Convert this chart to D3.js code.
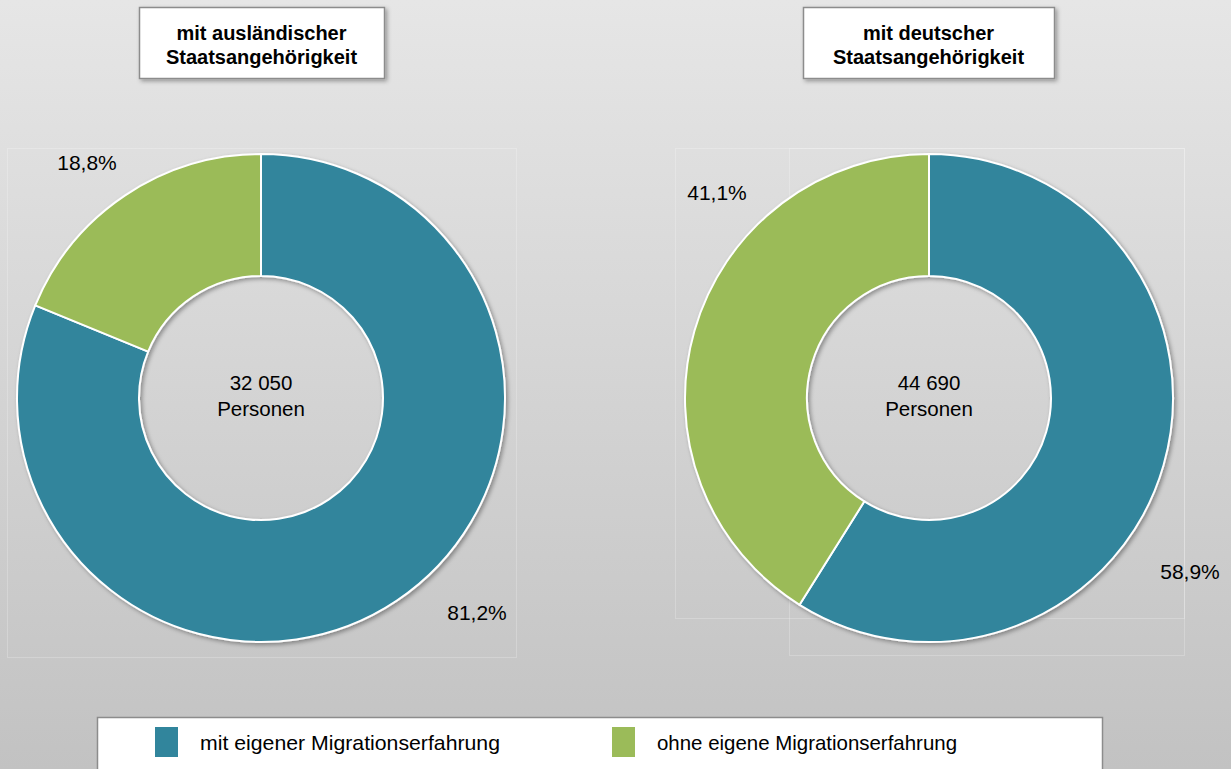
<!DOCTYPE html>
<meta charset="utf-8">
<style>
body { margin: 0; }
svg { display: block; font-family: "Liberation Sans", Arial, sans-serif; }
</style>
<svg width="1231" height="769"></svg>
<script src="https://d3js.org/d3.v7.min.js"></script>
<script>

// data
var categories = ["mit eigener Migrationserfahrung", "ohne eigene Migrationserfahrung"];
var chartTitles = [["mit ausländischer", "Staatsangehörigkeit"], ["mit deutscher", "Staatsangehörigkeit"]];
var totals = ["32 050", "44 690"];
var shareAusl = [81.2, 18.8];
var shareDeut = [58.9, 41.1];

var svg = d3.select("svg"),
    width = +svg.attr("width"),
    height = +svg.attr("height");

var color = d3.scaleOrdinal()
    .domain(categories)
    .range(["#31859c", "#9bbb59"]);

var defs = svg.append("defs");
var grad = defs.append("linearGradient")
    .attr("id", "bg")
    .attr("x1", 0).attr("y1", 0).attr("x2", 0).attr("y2", 1);
grad.append("stop").attr("offset", "0%").attr("stop-color", "#e6e6e6");
grad.append("stop").attr("offset", "100%").attr("stop-color", "#c2c2c2");

var shadow = defs.append("filter")
    .attr("id", "shadow")
    .attr("x", "-10%").attr("y", "-10%").attr("width", "130%").attr("height", "130%");
shadow.append("feDropShadow")
    .attr("dx", 2).attr("dy", 2)
    .attr("stdDeviation", 2)
    .attr("flood-color", "#000")
    .attr("flood-opacity", 0.35);

svg.append("rect")
    .attr("width", width)
    .attr("height", height)
    .attr("fill", "url(#bg)");

var pie = d3.pie().sort(null).value(function(d) { return d; });
var arc = d3.arc().innerRadius(122).outerRadius(244);

// label offsets from the centre (Excel best-fit placement)
var charts = [
  { cx: 261, cy: 398, values: shareAusl, title: chartTitles[0], total: totals[0],
    box: [139, 7, 245, 71], plot: [[7, 148, 509, 509]],
    labels: [[216, 215], [-174, -235]] },
  { cx: 929, cy: 398, values: shareDeut, title: chartTitles[1], total: totals[1],
    box: [803, 7, 251, 71], plot: [[675, 148, 509, 470], [789, 148, 395, 507]],
    labels: [[261, 174], [-212, -205]] }
];

function fmt(v) { return v.toFixed(1).replace(".", ",") + "%"; }

charts.forEach(function(c) {
  // faint plot area frames
  svg.append("g").selectAll("rect")
    .data(c.plot)
    .enter().append("rect")
      .attr("x", function(d) { return d[0] + 0.5; })
      .attr("y", function(d) { return d[1] + 0.5; })
      .attr("width", function(d) { return d[2]; })
      .attr("height", function(d) { return d[3]; })
      .attr("fill", "none")
      .attr("stroke", "#ffffff")
      .attr("stroke-opacity", 0.22);

  // title box
  svg.append("rect")
      .attr("x", c.box[0] + 0.5)
      .attr("y", c.box[1] + 0.5)
      .attr("width", c.box[2])
      .attr("height", c.box[3])
      .attr("fill", "#fff")
      .attr("stroke", "#8c8c8c")
      .attr("stroke-width", 1.5)
      .attr("filter", "url(#shadow)");

  svg.append("g").selectAll("text")
    .data(c.title)
    .enter().append("text")
      .attr("x", c.box[0] + c.box[2] / 2)
      .attr("y", function(d, i) { return 40 + i * 24; })
      .attr("text-anchor", "middle")
      .attr("font-size", "20px")
      .attr("font-weight", "bold")
      .attr("fill", "#000")
      .text(function(d) { return d; });

  var g = svg.append("g")
      .attr("transform", "translate(" + c.cx + "," + c.cy + ")");

  g.append("g")
      .attr("filter", "url(#shadow)")
    .selectAll("path")
    .data(pie(c.values))
    .enter().append("path")
      .attr("d", arc)
      .attr("fill", function(d, i) { return color(categories[i]); })
      .attr("stroke", "#fff")
      .attr("stroke-width", 2)
      .attr("stroke-linejoin", "round");

  g.selectAll("text.lbl")
    .data(c.values)
    .enter().append("text")
      .attr("class", "lbl")
      .attr("x", function(d, i) { return c.labels[i][0]; })
      .attr("y", function(d, i) { return c.labels[i][1]; })
      .attr("dy", "0.35em")
      .attr("text-anchor", "middle")
      .attr("font-size", "21px")
      .attr("fill", "#000")
      .text(fmt);

  g.append("text")
      .attr("y", -15)
      .attr("dy", "0.35em")
      .attr("text-anchor", "middle")
      .attr("font-size", "20.5px")
      .text(c.total);
  g.append("text")
      .attr("y", 11)
      .attr("dy", "0.35em")
      .attr("text-anchor", "middle")
      .attr("font-size", "20.5px")
      .text("Personen");
});

// legend
var legend = svg.append("g");
legend.append("rect")
    .attr("x", 97.5)
    .attr("y", 717.5)
    .attr("width", 1005)
    .attr("height", 70)
    .attr("fill", "#fff")
    .attr("stroke", "#8c8c8c")
    .attr("stroke-width", 1.5);

var lx = d3.scalePoint().domain(categories).range([155, 612]);

var item = legend.selectAll("g.item")
    .data(categories)
    .enter().append("g")
      .attr("class", "item")
      .attr("transform", function(d) { return "translate(" + lx(d) + ",727)"; });

item.append("rect")
    .attr("width", 23)
    .attr("height", 30)
    .attr("fill", function(d) { return color(d); });

item.append("text")
    .attr("x", 45)
    .attr("y", 16)
    .attr("dy", "0.35em")
    .attr("font-size", "21px")
    .attr("textLength", 300)
    .attr("lengthAdjust", "spacingAndGlyphs")
    .text(function(d) { return d; });

</script>
